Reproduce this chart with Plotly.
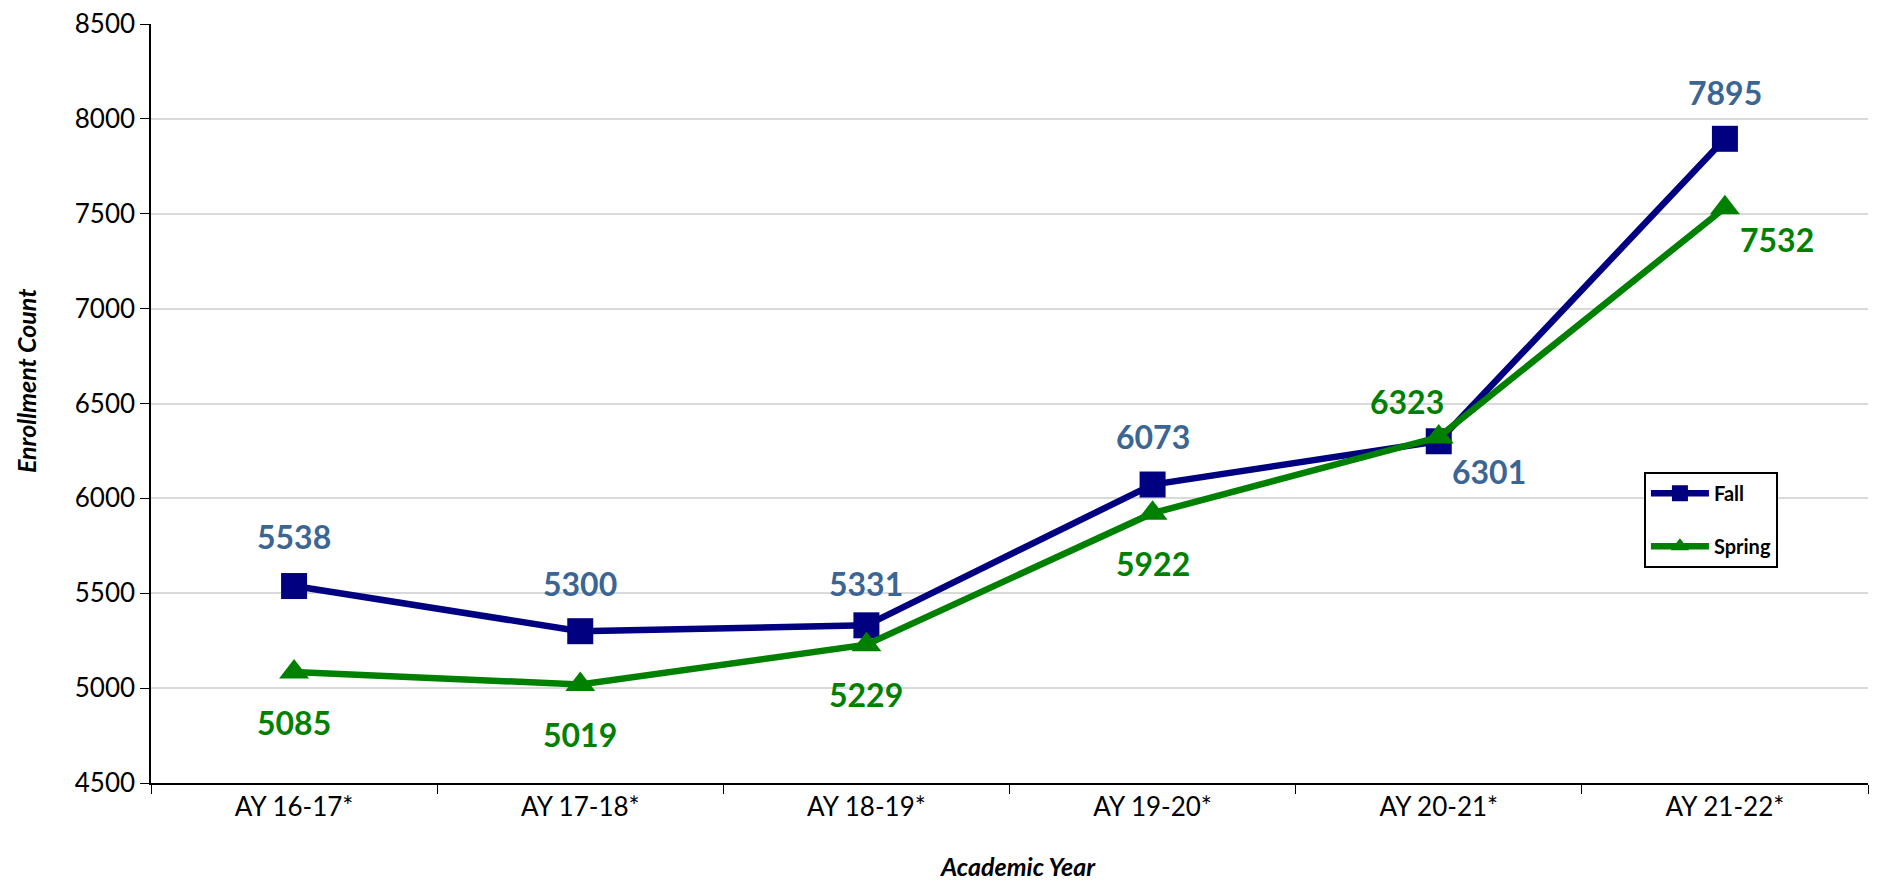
import plotly.graph_objects as go

years = ['AY 16-17*', 'AY 17-18*', 'AY 18-19*', 'AY 19-20*', 'AY 20-21*', 'AY 21-22*']
fall = [5538, 5300, 5331, 6073, 6301, 7895]
spring = [5085, 5019, 5229, 5922, 6323, 7532]

# label offsets (px) from each point
fall_shift = [(0, 50), (0, 48), (0, 42), (0, 48), (50, -30), (0, 46)]
spring_shift = [(0, -50), (0, -50), (0, -50), (0, -50), (-32, 36), (52, -32)]

FONT = 'Lato, Open Sans, sans-serif'
FALL_C = '#000080'
FALL_LBL = '#3b6593'
SPRING_C = '#008000'

fig = go.Figure()

fig.add_trace(go.Scatter(
    x=years, y=fall, name='Fall', legendgroup='f',
    mode='lines+markers',
    line=dict(color=FALL_C, width=6.5),
    marker=dict(symbol='square', size=26, color=FALL_C),
    cliponaxis=False
))

fig.add_trace(go.Scatter(
    x=years, y=spring, name='Spring', legendgroup='s',
    mode='lines+markers',
    line=dict(color=SPRING_C, width=6.5),
    marker=dict(symbol='triangle-up', size=26, color=SPRING_C),
    cliponaxis=False
))

annotations = []
for vals, shifts, col in [(fall, fall_shift, FALL_LBL), (spring, spring_shift, SPRING_C)]:
    for yr, v, (dx, dy) in zip(years, vals, shifts):
        annotations.append(dict(
            x=yr, y=v, text=f'<b>{v}</b>', showarrow=False,
            xshift=dx, yshift=dy,
            font=dict(family=FONT, size=32, color=col)
        ))

# axis titles placed as annotations (Excel-style offset positions)
annotations.append(dict(
    text='<b><i>Academic Year</i></b>', xref='paper', yref='paper',
    x=0.505, y=-0.109, xanchor='center', yanchor='middle', showarrow=False,
    font=dict(family=FONT, size=25, color='black')
))
annotations.append(dict(
    text='<b><i>Enrollment Count</i></b>', xref='paper', yref='paper',
    x=-0.0732, y=0.53, xanchor='center', yanchor='middle', showarrow=False,
    textangle=-90, font=dict(family=FONT, size=25, color='black')
))

fig.update_layout(
    width=1868, height=872,
    margin=dict(l=143, r=8, t=16, b=97),
    paper_bgcolor='white', plot_bgcolor='white',
    font=dict(family=FONT, color='black'),
    annotations=annotations,
    showlegend=True,
    legend=dict(
        x=0.8695, y=0.41, xanchor='left', yanchor='top',
        bordercolor='black', borderwidth=2, bgcolor='white',
        font=dict(family=FONT, size=20, color='black', weight='bold'),
        tracegroupgap=24, itemwidth=58
    ),
    xaxis=dict(
        automargin=False,
        showline=True, linecolor='black', linewidth=1.5,
        ticks='outside', tickson='boundaries', ticklen=9, tickcolor='black',
        tickfont=dict(size=26, family=FONT),
        showgrid=False, range=[-0.5, 5.5]
    ),
    yaxis=dict(
        automargin=False,
        range=[4500, 8500], dtick=500,
        showline=True, linecolor='black', linewidth=1.5,
        ticks='outside', ticklen=9, tickcolor='black',
        tickfont=dict(size=26, family=FONT), ticklabeloverflow='allow',
        showgrid=True, gridcolor='#d9d9d9', gridwidth=1.5,
        zeroline=False
    )
)

fig.write_html("out.html")
